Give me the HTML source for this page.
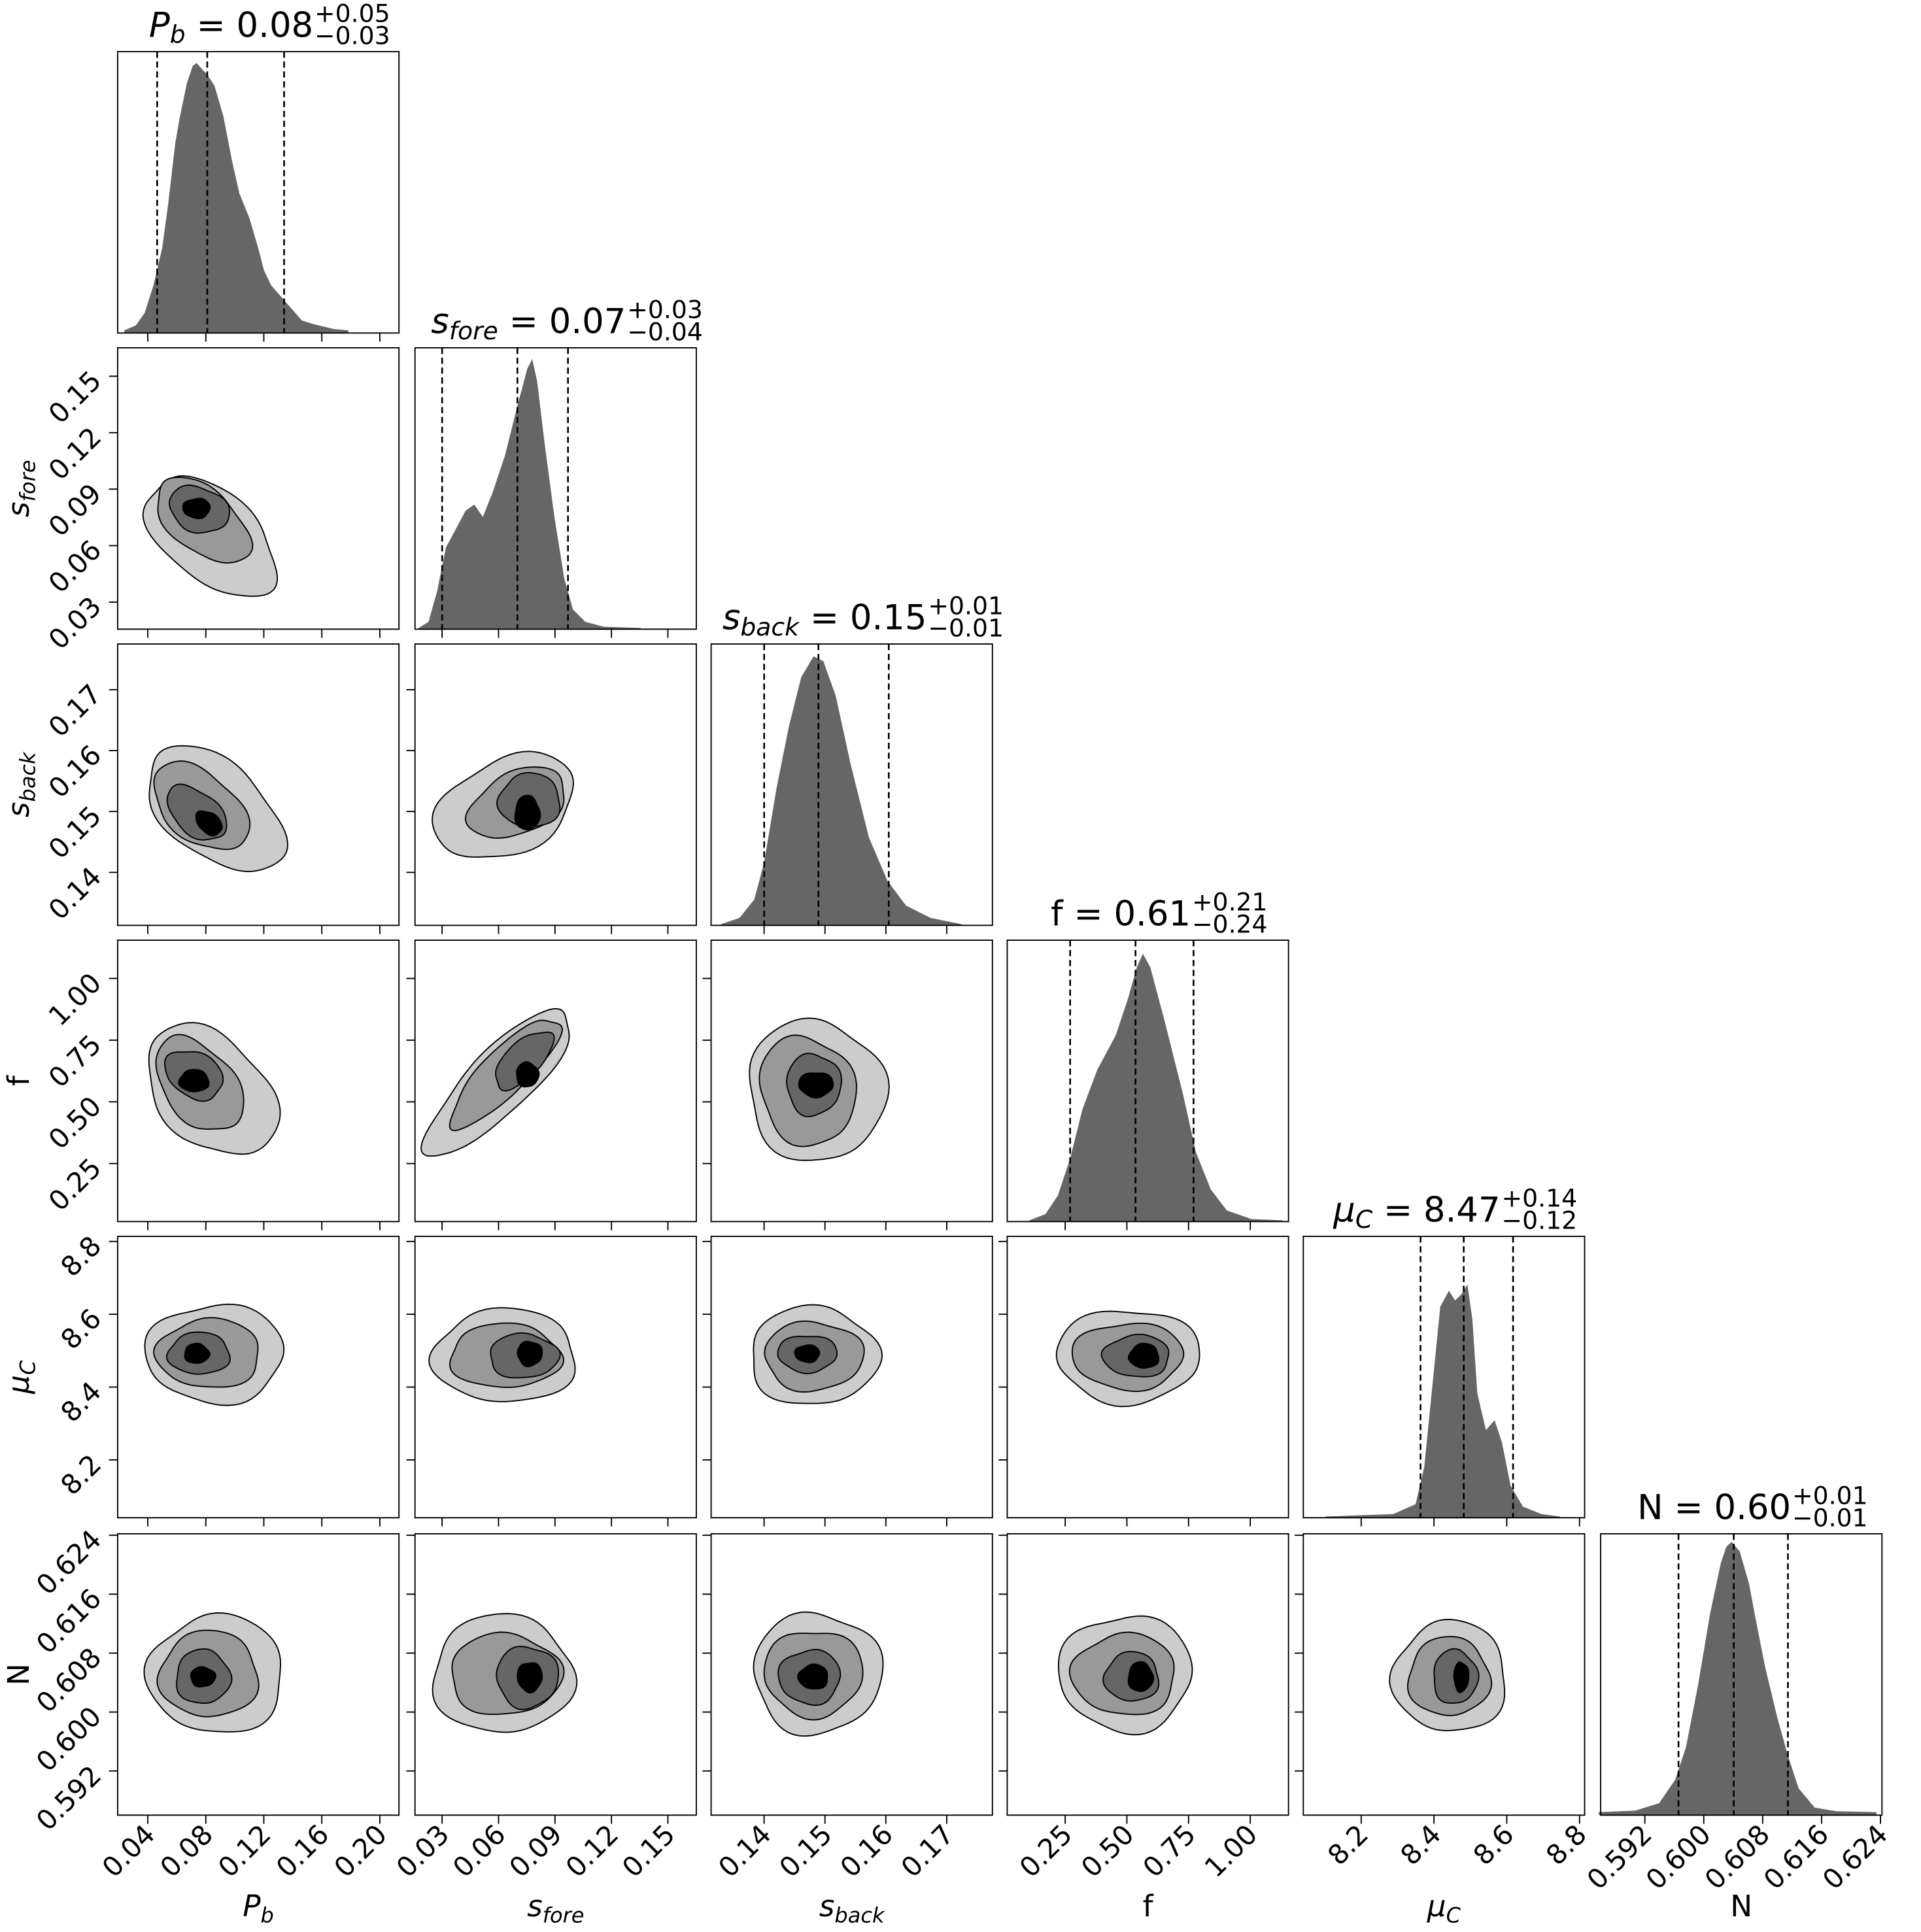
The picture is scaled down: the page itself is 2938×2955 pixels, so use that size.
<!DOCTYPE html>
<html><head><meta charset="utf-8"><style>
html,body{margin:0;padding:0;background:#fff;}
svg{display:block;}
text{font-family:"DejaVu Sans","Liberation Sans",sans-serif;fill:#000;}
</style></head><body>
<svg id="s" xmlns="http://www.w3.org/2000/svg" width="2938" height="2955" viewBox="0.64 1.17 1557 1565.5" preserveAspectRatio="none"></svg>
<script>
const S=document.getElementById('s');let h='';
const PX=[96,337,577,817,1057,1298],PY=[43,283,523,763,1003,1244],W=228;
const R=[[0.0192,0.2132],[0.0156,0.1651],[0.1313,0.1775],[0.015,1.155],[8.041,8.814],[0.586,0.6242]];
const T=[[0.04,0.08,0.12,0.16,0.20],[0.03,0.06,0.09,0.12,0.15],[0.14,0.15,0.16,0.17],[0.25,0.5,0.75,1.0],[8.2,8.4,8.6,8.8],[0.592,0.600,0.608,0.616,0.624]];
const TL=[["0.04","0.08","0.12","0.16","0.20"],["0.03","0.06","0.09","0.12","0.15"],["0.14","0.15","0.16","0.17"],["0.25","0.50","0.75","1.00"],["8.2","8.4","8.6","8.8"],["0.592","0.600","0.608","0.616","0.624"]];
const LAB=['<tspan font-style="italic">P</tspan><tspan font-style="italic" font-size="17" dy="5">b</tspan>',
'<tspan font-style="italic">s</tspan><tspan font-style="italic" font-size="17" dy="5">fore</tspan>',
'<tspan font-style="italic">s</tspan><tspan font-style="italic" font-size="17" dy="5">back</tspan>',
'f','<tspan font-style="italic">μ</tspan><tspan font-style="italic" font-size="17" dy="5">C</tspan>','N'];
const TIT=[['P','b','0.08','0.05','0.03'],['s','fore','0.07','0.03','0.04'],['s','back','0.15','0.01','0.01'],['f','','0.61','0.21','0.24'],['μ','C','8.47','0.14','0.12'],['N','','0.60','0.01','0.01']];
function xm(i,v){return PX[i]+(v-R[i][0])/(R[i][1]-R[i][0])*W;}
function ym(j,v){return PY[j]+W-(v-R[j][0])/(R[j][1]-R[j][0])*W;}
function blob(cx,cy,rx,ry,ang,fill,seed){let a=ang*Math.PI/180,p='';for(let k=0;k<=72;k++){let t=k/72*2*Math.PI;let f=1+0.05*Math.sin(3*t+seed)+0.03*Math.sin(5*t+seed*2);let x=rx*f*Math.cos(t),y=ry*f*Math.sin(t);let X=cx+x*Math.cos(a)-y*Math.sin(a),Y=cy+x*Math.sin(a)+y*Math.cos(a);p+=(k?'L':'M')+X.toFixed(1)+','+Y.toFixed(1);}
return `<path d="${p}Z" fill="${fill}" stroke="#000" stroke-width="1"/>`;}
const C={
'0,1':[[172,436,62,36,40],[165,423,45,25,40],[162,414,25,18,20],[160,413,11,8,0]],
'0,2':[[175,657,65,38,40],[163,655,45,27,40],[160,660,28,17,40],[170,668,12,8,40]],
'1,2':[[410,655,60,38,-25],[420,652,42,25,-25],[430,650,25,22,0],[428,660,10,14,0]],
'0,3':[[172,885,62,42,45],[162,880,44,28,50],[158,872,25,18,30],[158,877,12,9,0]],
'1,3':[[405,878,80,25,-45],[410,870,60,18,-45],[425,860,30,14,-45],[428,872,9,10,0]],
'2,3':[[662,885,55,58,-30],[655,885,38,45,-20],[660,880,22,25,0],[662,880,14,10,0]],
'0,4':[[175,1098,56,40,0],[170,1098,42,28,0],[162,1098,25,17,0],[160,1098,10,8,0]],
'1,4':[[410,1100,58,38,0],[410,1100,45,26,0],[425,1100,28,18,0],[430,1098,10,10,0]],
'2,4':[[660,1100,52,40,0],[660,1100,40,28,0],[655,1098,24,15,0],[655,1098,10,7,0]],
'3,4':[[915,1100,58,38,0],[915,1100,45,27,0],[922,1100,27,17,0],[928,1100,12,10,0]],
'0,5':[[176,1358,55,48,0],[170,1358,40,35,0],[165,1360,22,22,0],[165,1360,10,8,0]],
'1,5':[[408,1358,57,48,0],[410,1358,45,33,0],[428,1360,25,25,0],[430,1360,10,12,0]],
'2,5':[[663,1357,52,49,0],[660,1357,40,35,0],[657,1360,25,22,0],[660,1360,12,10,0]],
'3,5':[[913,1357,54,47,0],[912,1358,42,33,0],[918,1360,22,20,0],[925,1360,10,12,0]],
'4,5':[[1176,1360,46,45,0],[1175,1360,33,32,0],[1180,1360,18,22,0],[1185,1360,6,12,0]]};
const FC=['#cccccc','#999999','#666666','#000000'];
const H0=[[430,1330],[470,1310],[500,1260],[530,1150],[560,1000],[580,830],[605,580],[620,480],[645,340],[665,270],[678,258],[695,280],[715,305],[740,350],[770,470],[800,650],[825,780],[860,880],[890,1000],[910,1090],[935,1150],[980,1210],[1040,1290],[1080,1305],[1150,1325],[1200,1330]].map(p=>[p[0]/4.24,p[1]/4.947]);
const H5=[[375,1170],[510,1165],[600,1140],[660,1060],[700,950],[745,740],[790,500],[830,330],[850,275],[870,258],[900,290],[935,400],[960,520],[995,680],[1040,850],[1080,980],[1120,1090],[1180,1155],[1260,1167],[1410,1170]].map(p=>[(2300+p[0]/2.43)/1.893,(2250+p[1]/2.2)/1.893]);
const HS=[H0,
[[340,510],[348,505],[355,480],[362,445],[370,430],[378,415],[385,410],[392,420],[400,400],[410,370],[420,330],[428,300],[432,292],[436,310],[442,360],[450,420],[458,470],[465,495],[475,505],[490,509],[520,510]],
[[585,750],[600,745],[612,730],[620,700],[630,640],[640,590],[650,550],[660,533],[668,537],[678,565],[690,620],[705,680],[720,715],[735,735],[755,745],[780,750]],
[[835,990],[848,985],[858,970],[868,940],[878,900],[890,868],[905,840],[915,810],[922,785],[927,774],[933,785],[945,830],[960,890],[970,935],[982,965],[995,982],[1015,989],[1040,990]],
[[1075,1230],[1130,1228],[1148,1220],[1155,1190],[1162,1120],[1168,1060],[1175,1047],[1180,1055],[1185,1050],[1190,1042],[1194,1070],[1198,1130],[1205,1160],[1212,1152],[1218,1170],[1225,1205],[1235,1222],[1250,1228],[1265,1230]],
H5];
const DL=[[128,168.6,230.9],[359,420,461],[620,664,721],[868,921,968],[1152,1187,1227],[(2300+672/2.43)/1.893,(2300+878/2.43)/1.893,(2300+1080/2.43)/1.893]];
for(let j=0;j<6;j++)for(let i=0;i<=j;i++){
 const x0=PX[i],y0=PY[j];
 if(i==j){
  let pts=HS[i],b=y0+W;let p='M'+pts[0][0]+','+b;pts.forEach(q=>p+='L'+q[0].toFixed(1)+','+q[1].toFixed(1));p+='L'+pts[pts.length-1][0]+','+b+'Z';
  h+=`<path d="${p}" fill="#666666"/>`;
  DL[i].forEach(x=>h+=`<line x1="${x}" y1="${y0}" x2="${x}" y2="${y0+W}" stroke="#000" stroke-width="1.4" stroke-dasharray="5,3"/>`);
  const t=TIT[i],cx=x0+W/2;
  let main=t[1]?`<tspan font-style="italic">${t[0]}</tspan><tspan font-style="italic" font-size="20" dy="5">${t[1]}</tspan><tspan dy="-5"> = ${t[2]}</tspan>`:`${t[0]} = ${t[2]}`;
  h+=`<text class="mt" x="${cx-22}" y="${y0-12}" font-size="28" text-anchor="middle">${main}</text>`;
 } else {
  const c=C[i+','+j];if(c)c.forEach((e,k)=>h+=blob(e[0],e[1],e[2],e[3],e[4],FC[k],i*1.7+j+k));
  T[j].forEach(v=>{const y=ym(j,v);h+=`<line x1="${x0-7}" y1="${y}" x2="${x0}" y2="${y}" stroke="#000" stroke-width="1"/>`;});
 }
 h+=`<rect x="${x0}" y="${y0}" width="${W}" height="${W}" fill="none" stroke="#000" stroke-width="1"/>`;
 T[i].forEach(v=>{const x=xm(i,v);h+=`<line x1="${x}" y1="${y0+W}" x2="${x}" y2="${y0+W+7}" stroke="#000" stroke-width="1"/>`;});
}
for(let i=0;i<6;i++){T[i].forEach((v,k)=>{const x=xm(i,v),y=PY[5]+W+13;h+=`<text transform="translate(${x+7},${y+4}) rotate(-45)" font-size="22" text-anchor="end">${TL[i][k]}</text>`;});
 h+=`<text x="${PX[i]+W/2}" y="1554" font-size="24" text-anchor="middle">${LAB[i]}</text>`;}
for(let j=1;j<6;j++){T[j].forEach((v,k)=>{const y=ym(j,v);h+=`<text transform="translate(${PX[0]-12},${y+5}) rotate(-45)" font-size="22" text-anchor="end">${TL[j][k]}</text>`;});
 h+=`<text transform="translate(24,${PY[j]+W/2}) rotate(-90)" font-size="24" text-anchor="middle">${LAB[j]}</text>`;}
for(let i=0;i<6;i++){h+=`<text class="sp" x="0" y="${PY[i]-24}" font-size="20">+${TIT[i][3]}</text>`;h+=`<text class="sb" x="0" y="${PY[i]-6}" font-size="20">−${TIT[i][4]}</text>`;}
S.innerHTML=h;
const mains=[...S.querySelectorAll('.mt')],sp=[...S.querySelectorAll('.sp')],sb=[...S.querySelectorAll('.sb')];
mains.forEach((m,i)=>{const bb=m.getBBox();const x=bb.x+bb.width+1;sp[i].setAttribute('x',x);sb[i].setAttribute('x',x);});
</script>
</body></html>
